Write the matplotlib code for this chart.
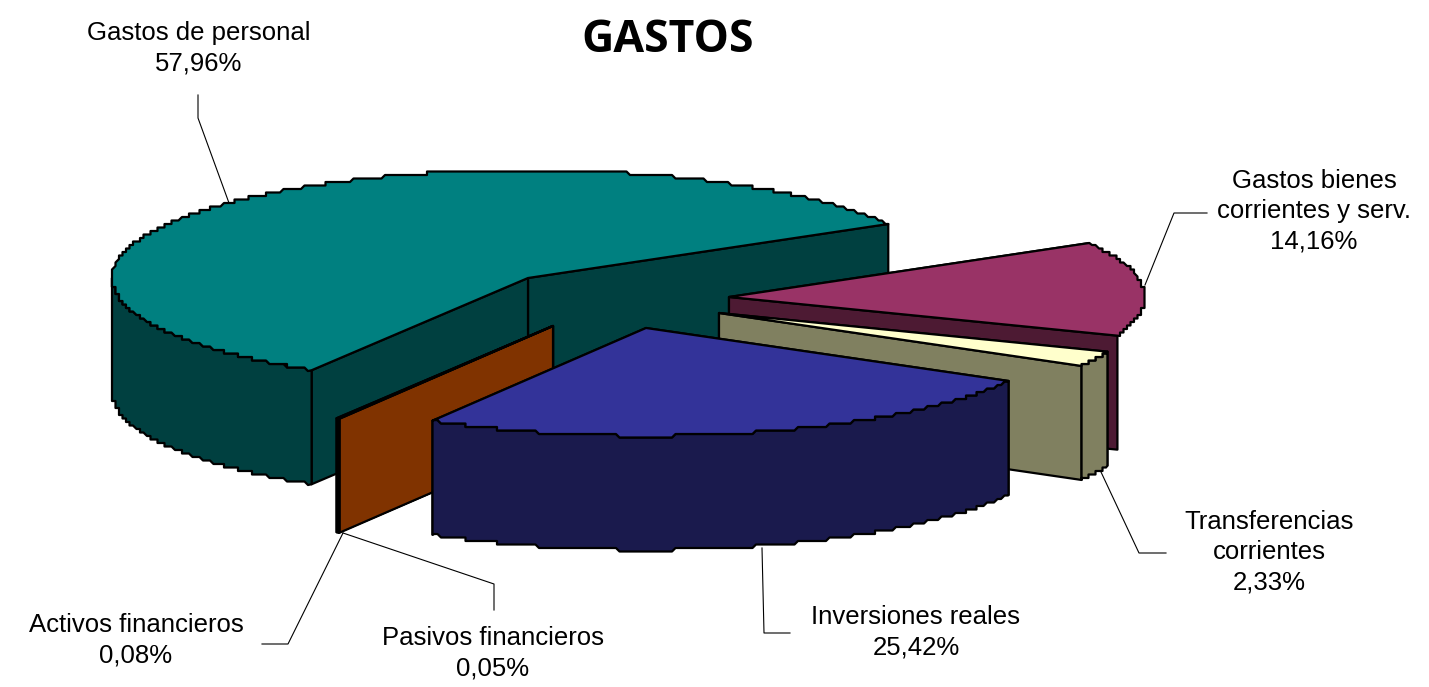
import numpy as np
import matplotlib
matplotlib.use("Agg")
import matplotlib.pyplot as plt
from matplotlib.patches import Polygon

# =========================
# DATA
# =========================
TITLE = "GASTOS"
LABELS = ["Gastos bienes\ncorrientes y serv.", "Transferencias\ncorrientes", "Inversiones reales",
          "Pasivos financieros", "Activos financieros", "Gastos de personal"]
VALUES = [14.16, 2.33, 25.42, 0.05, 0.08, 57.96]

# =========================
# CONFIGURATION
# =========================
W, H = 1429, 687
RX, RY = 416, 108
DEPTH = 114
START = 30  # first slice starts here, going clockwise
STEP = 3.5  # edge jaggedness of the arcs, the original is a blown up bitmap

APEX = [(729, 297), (719, 313), (646, 328), (553, 326), (553, 326), (528, 278)]
TOPS = ["#993366", "#FFFFCC", "#333399", "#803300", "#803300", "#008080"]
WALLS = ["#4D1A33", "#808060", "#1A1A4D", "#803300", "#803300", "#004040"]
DRAW_ORDER = [5, 0, 1, 4, 3, 2]

LABEL_POS = [(1314, 211), (1269, 552), (916, 632), (493, 653), (136, 640), (199, 48)]
LEADERS = [
    [(1207, 213), (1174, 213), (1145, 285)],
    [(1166, 553), (1139, 553), (1101, 472)],
    [(790, 633), (764, 633), (762, 548)],
    [(494, 610), (494, 584), (343, 533)],
    [(262, 644), (288, 644), (343, 533)],
    [(198, 95), (198, 118), (229, 203)],
]


def arc(apex, a0, a1):
    # outer edge from a0 to a1 (degrees), y axis points down
    t = np.radians(np.linspace(a0, a1, max(int(abs(a1 - a0) * 3), 2)))
    x = apex[0] + RX * np.cos(t)
    y = apex[1] - RY * np.sin(t)
    pts = np.round(np.c_[x, y] / STEP) * STEP
    pts[0] = x[0], y[0]
    pts[-1] = x[-1], y[-1]
    return pts


def face(ax, pts, color):
    ax.add_patch(Polygon(pts, closed=True, facecolor=color, edgecolor="black",
                         linewidth=1.6, joinstyle="round"))


def draw_slice(ax, apex, a0, a1, top, wall):
    # a0 > a1, clockwise
    down = np.array([0, DEPTH])
    centre = np.array(apex, dtype=float)
    edge = arc(apex, a0, a1)

    # inner walls, back one first
    for end in sorted([edge[0], edge[-1]], key=lambda p: p[1]):
        face(ax, [centre, end, end + down, centre + down], wall)

    # outer wall, only the part facing the viewer (lower half of the ellipse)
    lo, hi = a1, a0
    while hi > 0:
        lo -= 360
        hi -= 360
    lo2, hi2 = max(lo, -180), min(hi, 0)
    if lo2 < hi2:
        front = arc(apex, hi2, lo2)
        face(ax, np.vstack([front, (front + down)[::-1]]), wall)
    hi3, lo3 = a0 - 360, a1 - 360
    lo3, hi3 = max(lo3, -180), min(hi3, 0)
    if lo3 < hi3 and hi < -180:
        front = arc(apex, hi3, lo3)
        face(ax, np.vstack([front, (front + down)[::-1]]), wall)

    face(ax, np.vstack([centre, edge]), top)


# =========================
# VISUALIZATION
# =========================
plt.rcParams["font.family"] = ["Liberation Sans", "DejaVu Sans"]

fig = plt.figure(figsize=(W / 100, H / 100), dpi=100)
ax = fig.add_axes([0, 0, 1, 1])
ax.set_xlim(0, W)
ax.set_ylim(H, 0)
ax.axis("off")

spans = np.array(VALUES) / sum(VALUES) * 360
ends = START - np.cumsum(spans)
starts = ends + spans

for i in DRAW_ORDER:
    draw_slice(ax, APEX[i], starts[i], ends[i], TOPS[i], WALLS[i])

for pts in LEADERS:
    xs, ys = zip(*pts)
    ax.plot(xs, ys, color="black", linewidth=0.8)

for label, value, pos in zip(LABELS, VALUES, LABEL_POS):
    txt = f"{label}\n{value:.2f}%".replace(".", ",").replace("serv,", "serv.")
    ax.text(pos[0], pos[1], txt, ha="center", va="center", fontsize=18.5, linespacing=1.32)

ax.text(668, 40, TITLE, ha="center", va="center", fontsize=32, fontweight="bold",
        family=["Open Sans", "DejaVu Sans"])

fig.savefig("out.png", dpi=100)
